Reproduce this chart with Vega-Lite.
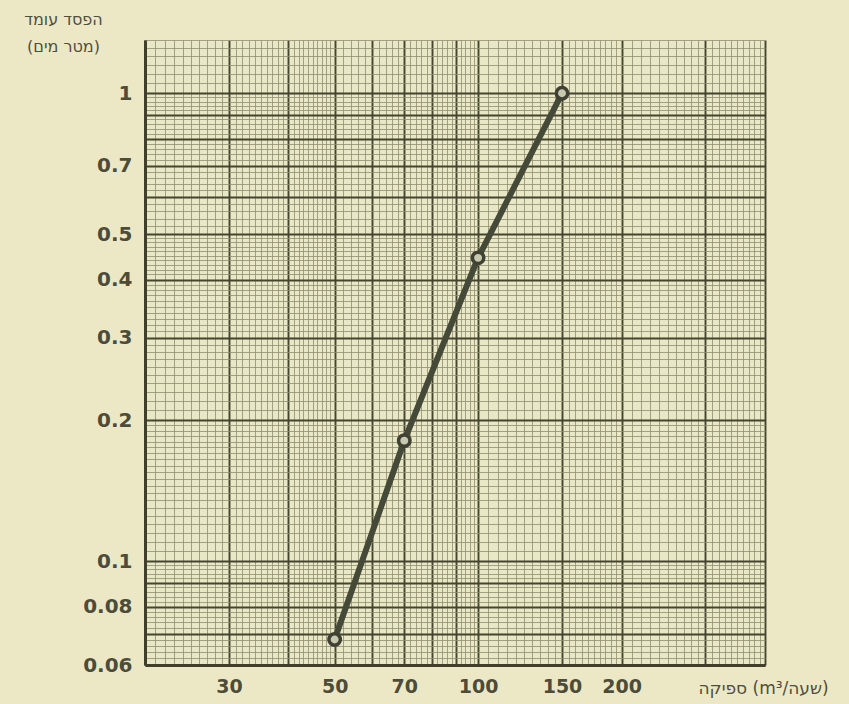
{
  "$schema": "https://vega.github.io/schema/vega-lite/v6.json",
  "width": 620,
  "height": 625,
  "autosize": {"type": "none"},
  "padding": {"left": 145, "top": 40, "right": 84, "bottom": 39},
  "background": "#ece8c6",
  "config": {
    "view": {"stroke": null, "fill": "#e8e7c6"},
    "axis": {
      "labelFont": "DejaVu Sans",
      "labelFontWeight": "bold",
      "labelColor": "#4c4c38",
      "titleFont": "DejaVu Sans",
      "titleFontWeight": "normal",
      "titleColor": "#4f4f3b",
      "domainColor": "#3f3f2c",
      "domainWidth": 3,
      "ticks": false,
      "labelOverlap": false,
      "labelBound": false
    }
  },
  "data": {
    "values": [
      {"flow": 50, "loss": 0.068},
      {"flow": 70, "loss": 0.181},
      {"flow": 100, "loss": 0.445},
      {"flow": 150, "loss": 1.0}
    ]
  },
  "encoding": {
    "x": {
      "field": "flow",
      "type": "quantitative",
      "scale": {"type": "log", "domain": [20, 400], "nice": false},
      "axis": {
        "title": "\u200eספיקה (m³/שעה)",
        "titleFontSize": 17,
        "titleAnchor": "start",
        "titleAlign": "left",
        "titleBaseline": "middle",
        "titleX": 553,
        "titleY": 23,
        "labelFontSize": 19,
        "labelPadding": 12,
        "values": [20,21,22,23,24,25,26,27,28,29,30,31,32,33,34,35,36,37,38,39,40,41,42,43,44,45,46,47,48,49,50,52,54,56,58,60,62,64,66,68,70,72,74,76,78,80,82,84,86,88,90,92,94,96,98,100,105,110,115,120,125,130,135,140,145,150,155,160,165,170,175,180,185,190,195,200,210,220,230,240,250,260,270,280,290,300,310,320,330,340,350,360,370,380,390,400],
        "labelExpr": "indexof([30,50,70,100,150,200], datum.value) >= 0 ? '' + datum.value : ''",
        "grid": true,
        "gridColor": {"condition": {"test": "indexof([20,30,40,50,60,70,80,90,100,150,200,300,400], datum.value) >= 0", "value": "#45452f"}, "value": "#908e70"},
        "gridWidth": {"condition": {"test": "indexof([20,30,40,50,60,70,80,90,100,150,200,300,400], datum.value) >= 0", "value": 1.9}, "value": 0.8},
        "gridOpacity": 1
      }
    },
    "y": {
      "field": "loss",
      "type": "quantitative",
      "scale": {"type": "log", "domain": [0.06, 1.3], "nice": false},
      "axis": {
        "title": ["הפסד עומד", "(מטר מים)"],
        "titleAngle": 0,
        "titleFontSize": 16,
        "titleLineHeight": 27,
        "titleAlign": "center",
        "titleBaseline": "top",
        "titleAnchor": "end",
        "titleX": -82,
        "titleY": -29,
        "labelFontSize": 20,
        "labelPadding": 13,
        "values": [0.06,0.062,0.064,0.066,0.068,0.07,0.072,0.074,0.076,0.078,0.08,0.082,0.084,0.086,0.088,0.09,0.092,0.094,0.096,0.098,0.1,0.105,0.11,0.115,0.12,0.125,0.13,0.135,0.14,0.145,0.15,0.155,0.16,0.165,0.17,0.175,0.18,0.185,0.19,0.195,0.2,0.21,0.22,0.23,0.24,0.25,0.26,0.27,0.28,0.29,0.3,0.31,0.32,0.33,0.34,0.35,0.36,0.37,0.38,0.39,0.4,0.41,0.42,0.43,0.44,0.45,0.46,0.47,0.48,0.49,0.5,0.52,0.54,0.56,0.58,0.6,0.62,0.64,0.66,0.68,0.7,0.72,0.74,0.76,0.78,0.8,0.82,0.84,0.86,0.88,0.9,0.92,0.94,0.96,0.98,1,1.05,1.1,1.15,1.2,1.25,1.3],
        "labelExpr": "indexof([0.06,0.08,0.1,0.2,0.3,0.4,0.5,0.7,1], datum.value) >= 0 ? '' + datum.value : ''",
        "grid": true,
        "gridColor": {"condition": {"test": "indexof([0.06,0.07,0.08,0.09,0.1,0.2,0.3,0.4,0.5,0.6,0.7,0.8,0.9,1], datum.value) >= 0", "value": "#45452f"}, "value": "#908e70"},
        "gridWidth": {"condition": {"test": "indexof([0.06,0.07,0.08,0.09,0.1,0.2,0.3,0.4,0.5,0.6,0.7,0.8,0.9,1], datum.value) >= 0", "value": 1.9}, "value": 0.8},
        "gridOpacity": 1
      }
    }
  },
  "layer": [
    {"mark": {"type": "line", "color": "#454a38", "strokeWidth": 6, "strokeCap": "round"}},
    {"mark": {"type": "point", "shape": "circle", "size": 130, "filled": false, "stroke": "#3f4232", "strokeWidth": 3.5, "fill": "#c9c9b0", "fillOpacity": 1}}
  ]
}
